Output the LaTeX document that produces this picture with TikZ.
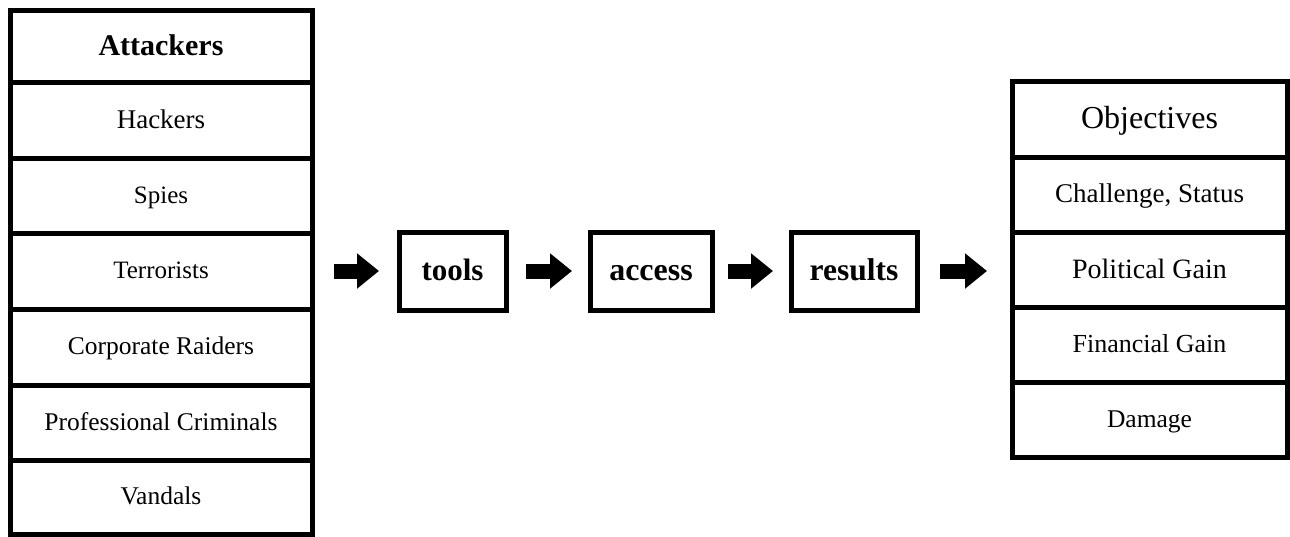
\documentclass[tikz,border=0pt]{standalone}
\usepackage{fontspec}
\setmainfont{Liberation Serif}
\usetikzlibrary{arrows.meta}
\begin{document}
\begin{tikzpicture}[x=1pt,y=-1pt,
  cell/.style={draw, line width=5pt, inner sep=0pt, anchor=center},
  lcell/.style={cell, minimum width=302pt},
  rcell/.style={cell, minimum width=275pt},
  mbox/.style={cell, minimum height=78pt},
  fs/.style={font=\fontsize{#1}{#1}\selectfont, text height={0.62*#1pt}, text depth=0pt},
  fb/.style={font=\fontsize{#1}{#1}\selectfont\bfseries, text height={0.62*#1pt}, text depth=0pt},
  bigarrow/.style={line width=15pt, -{Triangle[length=22pt,width=34pt]}}
]
\useasboundingbox (0,0) rectangle (1290,536);
% left column
\node[lcell, minimum height=72pt, fb=30] (att) at (161,46) {Attackers};
\node[lcell, minimum height=76pt, fs=27] (hack) at (161,120) {Hackers};
\node[lcell, minimum height=75pt, fs=25] (spies) at (161,195.5) {Spies};
\node[lcell, minimum height=76pt, fs=25] (terr) at (161,271) {Terrorists};
\node[lcell, minimum height=76pt, fs=25.5] (corp) at (161,347) {Corporate Raiders};
\node[lcell, minimum height=75pt, fs=25.5] (prof) at (161,422.5) {Professional Criminals};
\node[lcell, minimum height=74pt, fs=25.5] (vand) at (161,497) {Vandals};
% middle boxes
\node[mbox, minimum width=107pt, fb=31] (tools) at (452.5,271) {tools};
\node[mbox, minimum width=122pt, fb=32] (access) at (651,271) {access};
\node[mbox, minimum width=126pt, fb=31.5] (results) at (854,271) {results};
% right column
\node[rcell, minimum height=76pt, fs=32] (obj) at (1149.5,119) {Objectives};
\node[rcell, minimum height=75pt, fs=27] (chal) at (1149.5,194.5) {Challenge, Status};
\node[rcell, minimum height=75pt, fs=28] (pol) at (1149.5,269.5) {Political Gain};
\node[rcell, minimum height=75pt, fs=26] (fin) at (1149.5,344.5) {Financial Gain};
\node[rcell, minimum height=75pt, fs=25.5] (dam) at (1149.5,419.5) {Damage};
% arrows
\draw[bigarrow, shorten <=19.5pt, shorten >=17.5pt] (terr.east) -- (tools.west);
\draw[bigarrow, shorten <=17.5pt, shorten >=15.5pt] (tools.east) -- (access.west);
\draw[bigarrow, shorten <=13.5pt, shorten >=15.5pt] (access.east) -- (results.west);
\draw[bigarrow, shorten <=20.5pt, shorten >=22.5pt] (results.east) -- (results.east -| pol.west);
\end{tikzpicture}
\end{document}
